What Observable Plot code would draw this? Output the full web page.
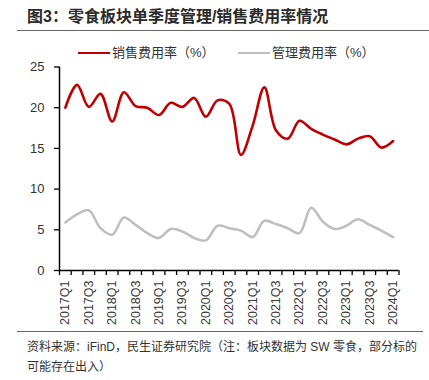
<!DOCTYPE html>
<html><head><meta charset="utf-8">
<script src="https://cdn.jsdelivr.net/npm/d3@7"></script>
<script src="https://cdn.jsdelivr.net/npm/@observablehq/plot@0.6"></script>
<style>
body{margin:0;background:#fff;}
#wrap{position:relative;width:429px;height:380px;font-family:"Liberation Sans","Noto Sans CJK SC",sans-serif;color:#333;overflow:hidden;background:#fff}
#title{position:absolute;left:27px;top:7px;font-size:16px;font-weight:bold;color:#2a2a2a;white-space:nowrap;line-height:20px}
#rule1{position:absolute;left:17px;top:30px;width:412px;height:0;border-top:1.5px solid #666}
#legend{position:absolute;left:0;top:44px;width:429px;height:18px;font-size:13px;line-height:18px;white-space:nowrap}
.sw{position:absolute;top:8px;width:32px;height:0;border-top:2.5px solid}
.lt{position:absolute;top:0}
#chart{position:absolute;left:0;top:58px}
#rule2{position:absolute;left:17px;top:331px;width:406px;height:0;border-top:1.5px solid #666}
#footer{position:absolute;left:27px;top:337px;font-size:12px;line-height:20px;color:#333;white-space:nowrap}
</style></head><body>
<div id="wrap">
<div id="title">图3：零食板块单季度管理/销售费用率情况</div>
<div id="rule1"></div>
<div id="legend"></div>
<div id="chart"></div>
<div id="rule2"></div>
<div id="footer">资料来源：iFinD，民生证券研究院（注：板块数据为 SW 零食，部分标的<br>可能存在出入）</div>
</div>
<script>
const quarters = ["2017Q1","2017Q2","2017Q3","2017Q4","2018Q1","2018Q2","2018Q3","2018Q4","2019Q1","2019Q2","2019Q3","2019Q4","2020Q1","2020Q2","2020Q3","2020Q4","2021Q1","2021Q2","2021Q3","2021Q4","2022Q1","2022Q2","2022Q3","2022Q4","2023Q1","2023Q2","2023Q3","2023Q4","2024Q1"];
const salesRate = [20.0, 22.8, 20.1, 21.7, 18.3, 21.9, 20.2, 20.0, 19.1, 20.6, 20.1, 21.2, 18.9, 20.9, 20.5, 14.2, 17.8, 22.5, 17.2, 16.2, 18.4, 17.4, 16.7, 16.1, 15.5, 16.2, 16.5, 15.1, 15.9];
const adminRate = [5.9, 6.9, 7.4, 5.2, 4.4, 6.5, 5.6, 4.6, 4.0, 5.1, 4.8, 4.0, 3.7, 5.5, 5.2, 4.9, 4.1, 6.1, 5.7, 5.2, 4.6, 7.7, 6.0, 5.1, 5.5, 6.3, 5.6, 4.9, 4.1];
const seriesNames = ["销售费用率（%）", "管理费用率（%）"];
const seriesColors = ["#c00000", "#bfbfbf"];
const yTicks = [0, 5, 10, 15, 20, 25];

// legend
const legend = document.getElementById("legend");
const legendX = [78, 238];
seriesNames.forEach((name, k) => {
  const sw = document.createElement("div");
  sw.className = "sw";
  sw.style.left = legendX[k] + "px";
  sw.style.borderTopColor = seriesColors[k];
  legend.appendChild(sw);
  const t = document.createElement("div");
  t.className = "lt";
  t.style.left = (legendX[k] + 34) + "px";
  t.textContent = name;
  legend.appendChild(t);
});

const n = quarters.length;
const idx = d3.range(n);
const salesData = idx.map(i => ({i, v: salesRate[i]}));
const adminData = idx.map(i => ({i, v: adminRate[i]}));
const boundaries = d3.range(n + 1).map(k => k - 0.5);
const labelIdx = idx.filter(i => i % 2 === 0);

const plot = Plot.plot({
  width: 429,
  height: 275,
  marginLeft: 59,
  marginRight: 30.5,
  marginTop: 8.5,
  marginBottom: 63,
  x: {type: "linear", domain: [-0.5, n - 0.5]},
  y: {domain: [0, 25]},
  style: {fontFamily: '"Liberation Sans","Noto Sans CJK SC",sans-serif', background: "transparent", color: "#333"},
  marks: [
    Plot.axisY({ticks: yTicks, tickSize: 5, tickPadding: 10, fontSize: 13, label: null, stroke: "#000", strokeWidth: 1.3}),
    Plot.axisX({ticks: boundaries, tickSize: 5, tickFormat: () => "", label: null, stroke: "#000", strokeWidth: 1.3}),
    Plot.axisX({ticks: labelIdx, tickSize: 0, tickPadding: 10, tickRotate: -90, tickFormat: i => quarters[i], fontSize: 12.5, fill: "#3a3a3a", label: null}),
    Plot.ruleX([-0.5], {stroke: "#000", strokeWidth: 1.5}),
    Plot.ruleY([0], {stroke: "#000", strokeWidth: 1.5}),
    Plot.line(adminData, {x: "i", y: "v", stroke: seriesColors[1], strokeWidth: 2.6, curve: "catmull-rom"}),
    Plot.line(salesData, {x: "i", y: "v", stroke: seriesColors[0], strokeWidth: 2.6, curve: "catmull-rom"})
  ]
});
document.getElementById("chart").appendChild(plot);
</script>
</body></html>
